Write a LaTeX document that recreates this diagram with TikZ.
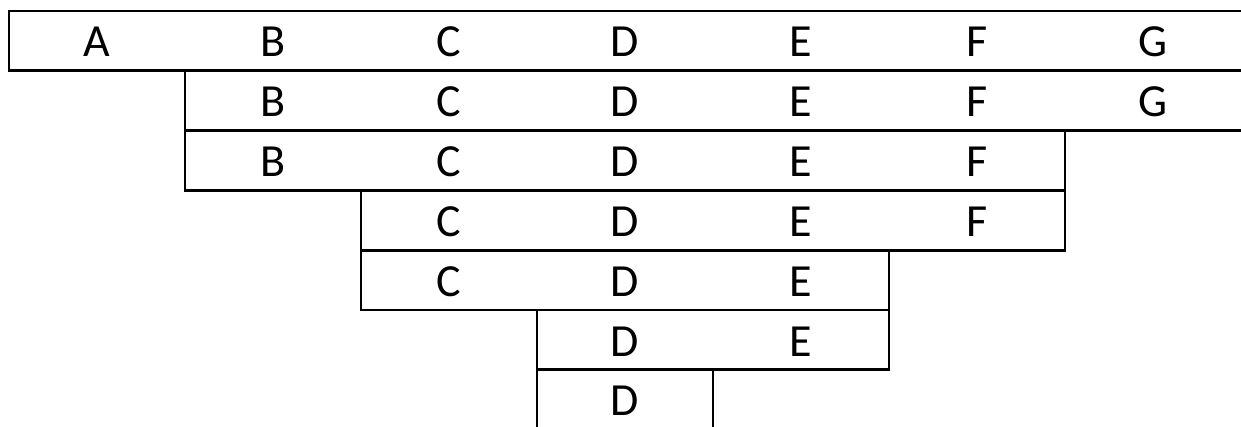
\documentclass[tikz,border=0pt]{standalone}
\usepackage{fontspec}
\setmainfont{Carlito}
\begin{document}
\begin{tikzpicture}[x=1pt,y=-1pt,
  grid/.style={line width=2.8pt,line cap=rect,line join=miter,black},
  lbl/.style={anchor=base,inner sep=0pt,font=\fontsize{46}{50}\selectfont}]
\useasboundingbox (0,0) rectangle (1241,427);
% lines
\draw[grid] (1245,11)--(9,11)--(9,70.8)--(1245,70.8);
\draw[grid] (185,70.8)--(185,190.4)--(1065,190.4);
\draw[grid] (185,130.6)--(1245,130.6);
\draw[grid] (1065,130.6)--(1065,250.2)--(361,250.2);
\draw[grid] (361,190.4)--(361,310)--(889,310);
\draw[grid] (889,250.2)--(889,369.8)--(537,369.8);
\draw[grid] (537,310)--(537,432);
\draw[grid] (713,369.8)--(713,432);
% labels
\foreach \n/\x in {A/97,B/273,C/449,D/625,E/801,F/977,G/1153}
  \node[lbl] (r1\n) at (\x,57) {\n};
\foreach \n/\x in {B/273,C/449,D/625,E/801,F/977,G/1153}
  \node[lbl] (r2\n) at (\x,116.8) {\n};
\foreach \n/\x in {B/273,C/449,D/625,E/801,F/977}
  \node[lbl] (r3\n) at (\x,176.6) {\n};
\foreach \n/\x in {C/449,D/625,E/801,F/977}
  \node[lbl] (r4\n) at (\x,236.4) {\n};
\foreach \n/\x in {C/449,D/625,E/801}
  \node[lbl] (r5\n) at (\x,296.2) {\n};
\foreach \n/\x in {D/625,E/801}
  \node[lbl] (r6\n) at (\x,356) {\n};
\node[lbl] (r7D) at (625,415.8) {D};
\end{tikzpicture}
\end{document}
